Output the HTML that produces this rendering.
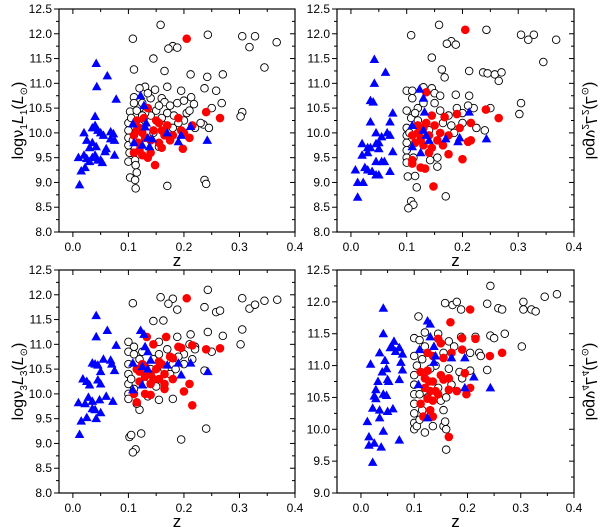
<!DOCTYPE html>
<html><head><meta charset="utf-8">
<style>
html,body{margin:0;padding:0;background:#fff;}
svg{display:block;font-family:"Liberation Sans",Arial,sans-serif;}
</style></head>
<body>
<svg id="chart" width="600" height="527" viewBox="0 0 600 527" xmlns="http://www.w3.org/2000/svg"></svg>
<script>
// ---- Panel 1 data (z, log L1) ----
const p1Blue=[[0.042,11.4],[0.062,11.15],[0.043,10.93],[0.078,10.68],[0.04,10.33],[0.04,10.15],[0.035,10.1],[0.045,10.05],[0.02,10.0],[0.05,10.0],[0.055,9.95],[0.068,10.02],[0.073,9.98],[0.075,9.85],[0.068,9.88],[0.025,9.85],[0.035,9.8],[0.03,9.7],[0.042,9.72],[0.06,9.68],[0.058,9.62],[0.075,9.55],[0.01,9.5],[0.02,9.55],[0.025,9.48],[0.035,9.5],[0.04,9.55],[0.045,9.45],[0.05,9.45],[0.053,9.4],[0.03,9.42],[0.022,9.3],[0.015,9.23],[0.012,8.95],[0.122,10.75],[0.128,10.55],[0.108,10.18],[0.132,10.2],[0.13,10.12],[0.135,9.9],[0.143,9.88],[0.125,9.75],[0.11,9.8],[0.17,10.0],[0.195,9.95],[0.19,9.82],[0.212,10.13],[0.242,9.85],[0.138,9.72]];
const p1Red=[[0.205,11.9],[0.135,10.5],[0.115,10.25],[0.12,10.1],[0.125,10.0],[0.11,9.95],[0.13,9.9],[0.118,9.8],[0.14,9.85],[0.15,10.25],[0.155,10.2],[0.16,10.05],[0.17,10.15],[0.165,9.95],[0.18,9.95],[0.19,10.3],[0.195,10.05],[0.2,10.0],[0.21,9.9],[0.215,10.15],[0.24,10.42],[0.265,10.3],[0.198,9.68],[0.148,9.35],[0.11,9.6],[0.125,9.55],[0.135,9.5],[0.14,9.6],[0.155,9.8],[0.145,10.05],[0.128,10.3],[0.175,9.85],[0.16,9.7],[0.115,10.05],[0.12,9.65]];
const p1Open=[[0.158,12.18],[0.108,11.9],[0.243,11.98],[0.305,11.95],[0.328,11.95],[0.318,11.73],[0.367,11.83],[0.18,11.75],[0.172,11.7],[0.188,11.72],[0.145,11.5],[0.11,11.28],[0.165,11.25],[0.212,11.18],[0.242,11.13],[0.27,11.18],[0.345,11.32],[0.13,10.93],[0.148,10.87],[0.17,10.93],[0.195,10.85],[0.237,10.9],[0.258,10.85],[0.11,10.72],[0.16,10.7],[0.165,10.62],[0.213,10.72],[0.218,10.58],[0.25,10.5],[0.268,10.6],[0.305,10.42],[0.302,10.33],[0.188,10.6],[0.14,10.7],[0.125,10.6],[0.103,10.43],[0.115,10.45],[0.15,10.45],[0.17,10.4],[0.182,10.35],[0.205,10.4],[0.235,10.17],[0.22,10.1],[0.1,10.2],[0.105,10.3],[0.1,10.05],[0.1,9.9],[0.1,9.75],[0.105,9.6],[0.1,9.42],[0.112,9.45],[0.113,9.35],[0.115,9.2],[0.103,9.1],[0.112,9.05],[0.113,8.88],[0.17,8.93],[0.237,9.05],[0.24,8.97],[0.155,9.72],[0.18,10.1],[0.2,10.25],[0.21,10.45],[0.14,10.35],[0.13,10.4],[0.12,10.15],[0.16,10.3],[0.175,10.55],[0.19,10.2],[0.23,10.2],[0.245,10.1],[0.108,9.85],[0.102,9.6],[0.11,10.6],[0.12,10.9],[0.135,10.8],[0.155,10.55],[0.2,10.65],[0.165,10.15],[0.145,10.0],[0.125,10.35]];
// ---- Panel 2 data ----
const p2Blue=[[0.042,11.48],[0.062,11.22],[0.042,11.0],[0.035,10.65],[0.04,10.62],[0.075,10.4],[0.035,10.22],[0.07,10.22],[0.045,10.0],[0.065,10.0],[0.07,9.95],[0.055,9.92],[0.02,9.78],[0.03,9.7],[0.05,9.8],[0.035,9.7],[0.045,9.78],[0.075,9.62],[0.03,9.6],[0.02,9.55],[0.05,9.68],[0.055,9.42],[0.045,9.42],[0.06,9.42],[0.008,9.25],[0.025,9.3],[0.03,9.25],[0.038,9.22],[0.045,9.15],[0.05,9.15],[0.07,9.22],[0.012,9.0],[0.022,9.0],[0.012,8.7],[0.123,10.88],[0.13,10.7],[0.132,10.42],[0.11,10.15],[0.13,10.05],[0.135,9.95],[0.14,9.85],[0.11,9.72],[0.125,9.6],[0.17,9.88],[0.195,9.9],[0.192,9.82],[0.212,10.42],[0.243,9.88]];
const p2Red=[[0.205,12.08],[0.135,10.82],[0.145,10.35],[0.168,10.32],[0.19,10.38],[0.242,10.47],[0.265,10.3],[0.215,10.2],[0.195,10.1],[0.12,10.0],[0.11,9.95],[0.13,10.1],[0.125,9.9],[0.14,9.95],[0.15,10.15],[0.16,10.0],[0.175,9.95],[0.115,9.8],[0.13,9.75],[0.145,9.7],[0.165,9.75],[0.21,9.82],[0.215,9.85],[0.175,9.57],[0.2,9.47],[0.11,9.45],[0.11,9.38],[0.125,9.3],[0.133,9.28],[0.14,9.6],[0.148,8.92],[0.125,9.85],[0.135,10.2],[0.155,9.85],[0.12,10.15]];
const p2Open=[[0.158,12.18],[0.108,11.97],[0.243,12.08],[0.305,11.98],[0.328,11.98],[0.318,11.88],[0.368,11.88],[0.18,11.85],[0.172,11.8],[0.188,11.78],[0.145,11.52],[0.163,11.28],[0.168,11.12],[0.212,11.25],[0.237,11.22],[0.245,11.2],[0.258,11.18],[0.27,11.22],[0.265,11.05],[0.345,11.43],[0.1,10.85],[0.11,10.85],[0.13,10.92],[0.145,10.9],[0.15,10.8],[0.16,10.75],[0.188,10.77],[0.212,10.75],[0.305,10.6],[0.302,10.38],[0.25,10.5],[0.22,10.5],[0.21,10.55],[0.12,10.5],[0.1,10.45],[0.108,10.3],[0.115,10.4],[0.16,10.45],[0.175,10.35],[0.2,10.4],[0.225,10.1],[0.24,10.05],[0.1,10.1],[0.1,9.95],[0.1,9.8],[0.1,9.65],[0.1,9.5],[0.1,9.4],[0.112,9.5],[0.155,9.5],[0.155,9.32],[0.142,9.45],[0.102,9.12],[0.115,9.13],[0.118,8.9],[0.108,8.62],[0.112,8.55],[0.103,8.48],[0.17,8.72],[0.185,10.0],[0.165,10.2],[0.14,10.05],[0.12,10.25],[0.2,10.2],[0.18,10.15],[0.15,10.6],[0.13,10.6],[0.105,10.0],[0.19,10.5],[0.11,10.7]];
// ---- Panel 3 data ----
const p3Blue=[[0.042,11.58],[0.062,11.28],[0.042,11.15],[0.078,10.98],[0.055,10.7],[0.068,10.68],[0.035,10.62],[0.04,10.6],[0.045,10.58],[0.07,10.6],[0.075,10.47],[0.05,10.45],[0.018,10.3],[0.025,10.25],[0.03,10.18],[0.045,10.28],[0.05,10.2],[0.01,9.82],[0.022,9.8],[0.028,9.93],[0.035,9.85],[0.048,9.88],[0.06,9.95],[0.072,9.85],[0.035,9.7],[0.04,9.68],[0.05,9.62],[0.042,9.5],[0.025,9.52],[0.015,9.45],[0.012,9.18],[0.122,11.28],[0.128,11.2],[0.13,10.95],[0.135,10.85],[0.14,10.68],[0.125,10.55],[0.108,10.62],[0.135,10.5],[0.17,10.58],[0.19,10.62],[0.212,10.62],[0.195,10.38],[0.125,10.18],[0.108,10.08],[0.243,10.45]];
const p3Red=[[0.205,11.93],[0.133,11.15],[0.145,11.0],[0.168,11.15],[0.19,10.95],[0.195,10.93],[0.215,10.98],[0.24,10.9],[0.265,10.92],[0.115,10.5],[0.12,10.45],[0.13,10.35],[0.14,10.4],[0.15,10.5],[0.16,10.6],[0.165,10.4],[0.175,10.75],[0.18,10.72],[0.12,10.25],[0.14,10.2],[0.155,10.3],[0.165,10.2],[0.165,10.1],[0.18,10.3],[0.2,10.05],[0.21,10.2],[0.215,9.77],[0.11,10.0],[0.13,10.0],[0.14,9.98],[0.115,9.83],[0.145,10.3],[0.125,10.6],[0.155,10.65],[0.13,10.55]];
const p3Open=[[0.158,11.95],[0.108,11.83],[0.18,11.92],[0.172,11.82],[0.188,11.7],[0.243,12.1],[0.237,11.75],[0.258,11.65],[0.265,11.68],[0.305,11.93],[0.318,11.72],[0.328,11.8],[0.345,11.88],[0.368,11.9],[0.145,11.47],[0.163,11.48],[0.305,11.3],[0.243,11.25],[0.212,11.2],[0.27,11.17],[0.188,11.15],[0.302,11.0],[0.25,10.85],[0.22,10.95],[0.215,10.7],[0.2,10.8],[0.1,11.05],[0.11,10.95],[0.155,11.05],[0.17,10.9],[0.1,10.85],[0.1,10.6],[0.1,10.4],[0.1,10.2],[0.1,10.0],[0.1,9.9],[0.11,10.1],[0.11,10.8],[0.12,10.7],[0.155,10.8],[0.18,10.6],[0.19,10.75],[0.185,10.5],[0.165,10.5],[0.145,10.7],[0.12,9.68],[0.115,9.8],[0.155,9.88],[0.135,9.95],[0.18,9.9],[0.237,10.47],[0.102,9.13],[0.105,9.17],[0.123,9.2],[0.113,8.88],[0.108,8.82],[0.195,9.08],[0.24,9.3],[0.21,11.0],[0.13,10.2],[0.125,10.85],[0.14,10.5],[0.175,10.4],[0.105,10.3],[0.15,10.15],[0.22,10.9],[0.2,10.6]];
// ---- Panel 4 data ----
const p4Blue=[[0.042,11.9],[0.042,11.5],[0.035,11.2],[0.062,11.38],[0.058,11.3],[0.065,11.22],[0.072,11.28],[0.055,11.28],[0.078,11.18],[0.045,11.08],[0.018,11.02],[0.04,10.9],[0.048,10.95],[0.075,11.05],[0.078,10.93],[0.05,10.78],[0.032,10.75],[0.052,10.75],[0.072,10.78],[0.028,10.62],[0.025,10.52],[0.028,10.48],[0.042,10.55],[0.048,10.53],[0.022,10.33],[0.035,10.3],[0.05,10.28],[0.06,10.32],[0.035,10.18],[0.012,10.12],[0.042,9.97],[0.015,9.88],[0.025,9.78],[0.015,9.75],[0.038,9.72],[0.072,9.83],[0.022,9.48],[0.125,11.7],[0.13,11.65],[0.13,11.45],[0.137,11.3],[0.14,11.15],[0.137,11.05],[0.11,11.25],[0.17,11.12],[0.195,11.12],[0.108,10.7],[0.212,10.82],[0.195,10.65],[0.243,10.65],[0.125,10.18]];
const p4Red=[[0.205,11.88],[0.168,11.68],[0.145,11.42],[0.15,11.35],[0.19,11.43],[0.215,11.42],[0.125,11.2],[0.135,11.15],[0.155,11.12],[0.17,11.2],[0.19,11.25],[0.242,11.15],[0.265,11.2],[0.112,10.9],[0.125,10.92],[0.12,10.8],[0.128,10.75],[0.135,10.75],[0.15,10.85],[0.155,10.78],[0.165,10.8],[0.12,10.65],[0.13,10.6],[0.14,10.6],[0.145,10.55],[0.125,10.48],[0.135,10.45],[0.165,10.62],[0.18,10.6],[0.198,10.55],[0.205,10.65],[0.195,10.88],[0.112,10.4],[0.13,10.3],[0.117,10.2],[0.135,10.2],[0.165,9.88]];
const p4Open=[[0.243,12.25],[0.158,11.98],[0.172,11.95],[0.18,12.0],[0.188,11.88],[0.237,11.97],[0.258,11.9],[0.265,11.88],[0.305,12.0],[0.305,11.88],[0.32,11.88],[0.328,11.85],[0.345,12.08],[0.368,12.12],[0.108,11.77],[0.27,11.5],[0.243,11.47],[0.25,11.43],[0.302,11.3],[0.1,11.43],[0.11,11.4],[0.12,11.52],[0.145,11.5],[0.165,11.38],[0.188,11.45],[0.215,11.45],[0.205,11.2],[0.222,11.2],[0.225,11.15],[0.237,10.93],[0.1,11.15],[0.105,11.0],[0.1,10.85],[0.1,10.7],[0.1,10.55],[0.1,10.4],[0.1,10.25],[0.1,10.1],[0.1,10.0],[0.105,10.05],[0.11,10.15],[0.12,9.95],[0.155,10.05],[0.158,10.12],[0.16,9.68],[0.16,10.0],[0.15,10.45],[0.16,10.5],[0.165,10.95],[0.185,10.9],[0.19,10.8],[0.205,10.92],[0.175,11.3],[0.155,11.2],[0.14,11.0],[0.115,11.1],[0.13,10.95],[0.125,10.5],[0.145,10.65],[0.11,10.55],[0.115,10.3],[0.135,10.05],[0.17,10.7],[0.155,10.3],[0.12,11.3]];
// tick labels
const xTicks=[0.0,0.1,0.2,0.3,0.4];
const yTicksA=[8.0,8.5,9.0,9.5,10.0,10.5,11.0,11.5,12.0,12.5];
const yTicksB=[9.0,9.5,10.0,10.5,11.0,11.5,12.0,12.5];

const NS="http://www.w3.org/2000/svg";
const svg=document.getElementById('chart');
function mk(tag,attrs,parent){const e=document.createElementNS(NS,tag);for(const k in attrs)e.setAttribute(k,attrs[k]);(parent||svg).appendChild(e);return e;}

function panel(cfg){
  const g=mk('g',{});
  
  
  const xs=v=>cfg.L+(v-cfg.x0)/(cfg.x1-cfg.x0)*(cfg.R-cfg.L);
  const ys=v=>cfg.B-(v-cfg.y0)/(cfg.y1-cfg.y0)*(cfg.B-cfg.T);
  // frame
  const fr=mk('rect',{x:cfg.L,y:cfg.T,width:cfg.R-cfg.L,height:cfg.B-cfg.T,fill:'none',stroke:'#000','stroke-width':1.2},g);
  
  
  // x ticks
  for(let v=0;v<=0.4001;v+=0.05){
    const X=xs(v),major=Math.abs(v*10-Math.round(v*10))<1e-6;
    const len=major?5:3;
    mk('line',{x1:X,y1:cfg.B,x2:X,y2:cfg.B+len,stroke:'#000','stroke-width':1},g);
    mk('line',{x1:X,y1:cfg.T,x2:X,y2:cfg.T+len,stroke:'#000','stroke-width':1},g);
  }
  xTicks.forEach(v=>{
    const t=mk('text',{x:xs(v),y:cfg.B+19,'font-size':12,'text-anchor':'middle',fill:'#000'},g);
    t.textContent=v.toFixed(1);
    
    
  });
  // y ticks
  for(let v=cfg.y0;v<=cfg.y1+1e-6;v+=0.25){
    const Y=ys(v),major=Math.abs(v*2-Math.round(v*2))<1e-6;
    const len=major?5:3;
    mk('line',{x1:cfg.L-len,y1:Y,x2:cfg.L,y2:Y,stroke:'#000','stroke-width':1},g);
    mk('line',{x1:cfg.R,y1:Y,x2:cfg.R-len,y2:Y,stroke:'#000','stroke-width':1},g);
  }
  cfg.yt.forEach(v=>{
    const t=mk('text',{x:cfg.L-7,y:ys(v)+4,'font-size':12,'text-anchor':'end',fill:'#000'},g);
    t.textContent=v.toFixed(1);
    
    
  });
  // x title
  const xt=mk('text',{x:(cfg.L+cfg.R)/2,y:cfg.B+34,'font-size':17,'text-anchor':'middle',fill:'#000'},g);
  xt.textContent='z';
  
  
  // y title
  const cy=(cfg.T+cfg.B)/2;
  const yt=mk('text',{x:0,y:0,'font-size':16,'text-anchor':'middle',fill:'#000',
    transform:cfg.right?`translate(${cfg.yx},${cy}) rotate(90) scale(-1,1)`:`translate(${cfg.yx},${cy}) rotate(-90)`},g);
  yt.innerHTML=`log<tspan font-family="DejaVu Sans" font-size="15">ν</tspan><tspan font-size="10" dy="4">${cfg.k}</tspan><tspan font-style="italic" dy="-4">L</tspan><tspan font-size="10" dy="4">${cfg.k}</tspan><tspan dy="-4">(</tspan><tspan font-style="italic">L</tspan><tspan font-size="10" dy="4" font-family="DejaVu Sans">⊙</tspan><tspan dy="-4">)</tspan>`;
  
  
  // points
  cfg.open.forEach(p=>{
    const c=mk('circle',{cx:xs(p[0]),cy:ys(p[1]),r:3.8,fill:'#fff',stroke:'#000','stroke-width':0.9},g);
    
    
  });
  cfg.red.forEach(p=>{
    const c=mk('circle',{cx:xs(p[0]),cy:ys(p[1]),r:4.3,fill:'#f00'},g);
    
    
  });
  cfg.blue.forEach(p=>{
    const X=xs(p[0]),Y=ys(p[1]);
    const t=mk('polygon',{points:`${X},${Y-5} ${X-4.8},${Y+3.5} ${X+4.8},${Y+3.5}`,fill:'#0000ff'},g);
    
    
  });
}
panel({name:'panel-1',L:59,R:295,T:9,B:232,x0:-0.025,x1:0.4,y0:8,y1:12.5,yt:yTicksA,yx:23,k:'1',right:false,open:p1Open,red:p1Red,blue:p1Blue});
panel({name:'panel-2',L:337,R:574,T:9,B:232,x0:-0.025,x1:0.4,y0:8,y1:12.5,yt:yTicksA,yx:586,k:'2',right:true,open:p2Open,red:p2Red,blue:p2Blue});
panel({name:'panel-3',L:59,R:295,T:270,B:493,x0:-0.025,x1:0.4,y0:8,y1:12.5,yt:yTicksA,yx:23,k:'3',right:false,open:p3Open,red:p3Red,blue:p3Blue});
panel({name:'panel-4',L:337,R:574,T:270,B:493,x0:-0.045,x1:0.4,y0:9,y1:12.5,yt:yTicksB,yx:586,k:'4',right:true,open:p4Open,red:p4Red,blue:p4Blue});
</script>
</body></html>
